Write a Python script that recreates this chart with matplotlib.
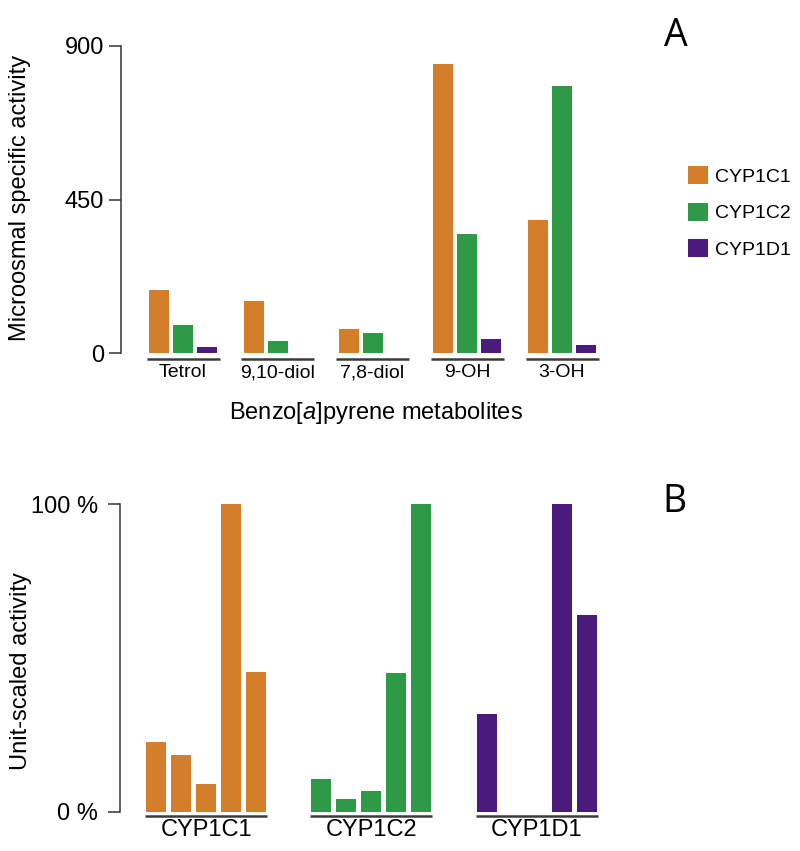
import numpy as np
import matplotlib
matplotlib.use("Agg")
import matplotlib.pyplot as plt
from matplotlib.patches import Patch

plt.rcParams['font.family'] = ['Liberation Sans', 'DejaVu Sans']
plt.rcParams['mathtext.fontset'] = 'custom'
plt.rcParams['mathtext.rm'] = 'Liberation Sans'
plt.rcParams['mathtext.it'] = 'Liberation Sans:italic'

# Données
enzymes = ['CYP1C1', 'CYP1C2', 'CYP1D1']
metabolites = ['Tetrol', '9,10-diol', '7,8-diol', '9-OH', '3-OH']
couleurs = ['#D27E2B', '#2E9A48', '#4A1A7C']

# A : activité spécifique microsomale
act_1c1 = [185, 154, 70, 846, 389]
act_1c2 = [83, 37, 60, 349, 782]
act_1d1 = [19, 0, 0, 43, 24]

# B : activité normalisée (fraction du max)
unit_1c1 = [0.227, 0.183, 0.091, 1.0, 0.456]
unit_1c2 = [0.105, 0.042, 0.068, 0.452, 1.0]
unit_1d1 = [0.317, 0.0, 0.0, 1.0, 0.639]

ticks_a = [0, 450, 900]
ticks_b = [0, 1]
ticklabels_b = ['0 %', '100 %']

W, H = 800, 851
fig = plt.figure(figsize=(W / 100, H / 100), dpi=100)


def boite(x0, y0, x1, y1):
    # coordonnées pixel (origine en haut à gauche) -> fraction de figure
    return [x0 / W, 1 - y1 / H, (x1 - x0) / W, (y1 - y0) / H]


gris = '#333333'
trait = '#3a3a3a'

# ---------- Panneau A ----------
ax = fig.add_axes(boite(121, 45.7, 610, 353.3))
pas_a = 94.75
ecart = 24 / pas_a
larg = 20 / pas_a
x = np.arange(len(metabolites))
series_a = [act_1c1, act_1c2, act_1d1]
for k, (vals, c) in enumerate(zip(series_a, couleurs)):
    ax.bar(x + (k - 1) * ecart, vals, width=larg, color=c, edgecolor='none')

ax.set_xlim(-(183 - 121) / pas_a, 4 + (610 - 562) / pas_a)
ax.set_ylim(0, 900)
y_sous = -5.7 * 900 / 307.6
deb = 2.5 / pas_a
for xi in x:
    ax.plot([xi - ecart - larg / 2 - deb, xi + ecart + larg / 2 + deb], [y_sous, y_sous],
            color=trait, lw=1.8, clip_on=False, solid_capstyle='butt')

for s in ['top', 'right', 'bottom']:
    ax.spines[s].set_visible(False)
ax.spines['left'].set_bounds(0, 900)
ax.spines['left'].set_color(gris)
ax.spines['left'].set_linewidth(1.1)
ax.set_yticks(ticks_a)
ax.set_yticklabels([str(t) for t in ticks_a], fontsize=17)
ax.tick_params(axis='y', length=8.6, width=1.1, color=gris, pad=3.5)
ax.set_xticks(x)
ax.set_xticklabels(metabolites, fontsize=14)
ax.tick_params(axis='x', length=0, pad=8)
ax.set_ylabel('Microosmal specific activity', fontsize=17, va='center')
ax.yaxis.set_label_coords(-(121 - 20.5) / 489, 0.504)
ax.set_xlabel('Benzo[$\\mathit{a}$]pyrene metabolites', fontsize=17, va='center')
ax.xaxis.set_label_coords((376 - 121) / 489, -(413 - 353.3) / 307.6)

# Légende
poignees = [Patch(facecolor=c, edgecolor='none') for c in couleurs]
fig.legend(poignees, enzymes, loc='upper left', bbox_to_anchor=(688 / W, 1 - 166.5 / H),
           frameon=False, fontsize=14, handlelength=1.03, handleheight=1.03,
           handletextpad=0.36, labelspacing=0.86, borderpad=0, borderaxespad=0)

# ---------- Panneau B ----------
bx = fig.add_axes(boite(119.5, 504.3, 610, 811.7))
pas_b = 165.1
ecart_b = 25 / pas_b
larg_b = 20 / pas_b
xb = np.arange(len(enzymes))
series_b = [unit_1c1, unit_1c2, unit_1d1]
for g, (vals, c) in enumerate(zip(series_b, couleurs)):
    pos = xb[g] + (np.arange(len(metabolites)) - 2) * ecart_b
    bx.bar(pos, vals, width=larg_b, color=c, edgecolor='none')

bx.set_xlim(-(206.3 - 119.5) / pas_b, 2 + (610 - 536.5) / pas_b)
bx.set_ylim(0, 1)
y_sous_b = -4.3 / 307.4
deb_b = 1 / pas_b
for xi in xb:
    bx.plot([xi - 2 * ecart_b - larg_b / 2 - deb_b, xi + 2 * ecart_b + larg_b / 2 + deb_b],
            [y_sous_b, y_sous_b], color=trait, lw=1.8, clip_on=False, solid_capstyle='butt')

for s in ['top', 'right', 'bottom']:
    bx.spines[s].set_visible(False)
bx.spines['left'].set_bounds(0, 1)
bx.spines['left'].set_color(gris)
bx.spines['left'].set_linewidth(1.1)
bx.set_yticks(ticks_b)
bx.set_yticklabels(ticklabels_b, fontsize=17)
bx.tick_params(axis='y', length=8.6, width=1.1, color=gris, pad=7)
bx.set_xticks(xb)
bx.set_xticklabels(enzymes, fontsize=17)
bx.tick_params(axis='x', length=0, pad=5.5)
bx.set_ylabel('Unit-scaled activity', fontsize=17, va='center')
bx.yaxis.set_label_coords(-(119.5 - 20.6) / 490.5, (811.7 - 671.5) / 307.4)

# Lettres de panneau
fig.text(676 / W, 1 - 46 / H, 'A', fontsize=27, family='Open Sans', ha='center', va='baseline')
fig.text(674 / W, 1 - 512 / H, 'B', fontsize=27, family='Open Sans', ha='center', va='baseline')

fig.savefig('out.png', dpi=100)
